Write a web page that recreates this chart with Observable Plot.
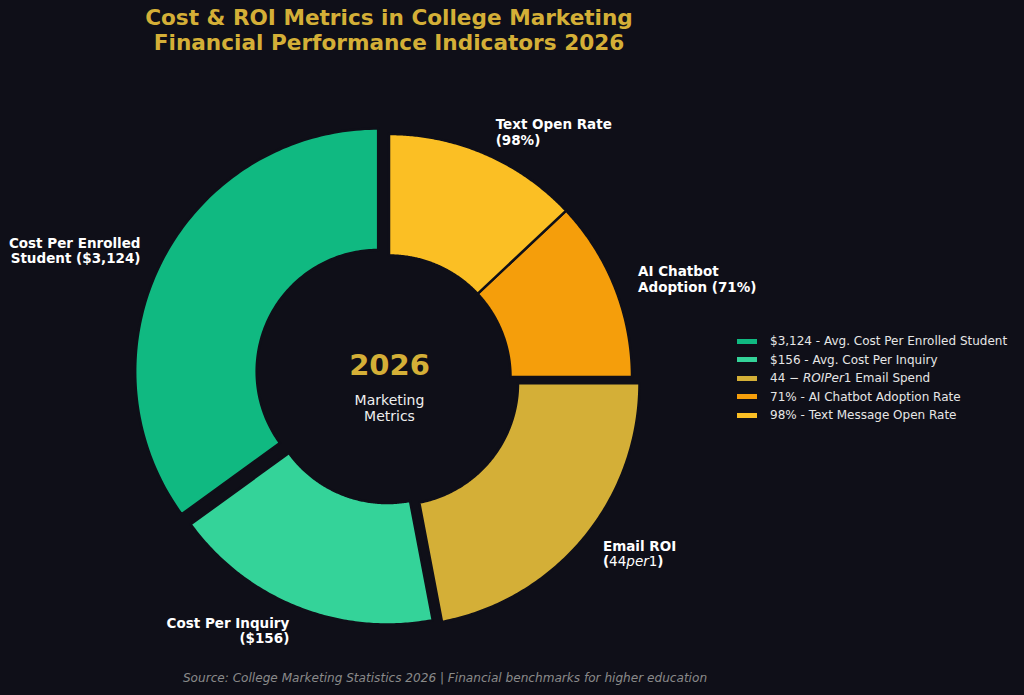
<!DOCTYPE html>
<html><head><meta charset="utf-8">
<script src="https://cdn.jsdelivr.net/npm/d3@7"></script>
<script src="https://cdn.jsdelivr.net/npm/@observablehq/plot@0.6"></script>
<style>
body{margin:0;background:#0f0f18;}
#wrap{position:relative;width:1024px;height:695px;overflow:hidden;background:#0f0f18;font-family:"DejaVu Sans",sans-serif;}
#chart{position:absolute;left:0;top:0;}
.title{position:absolute;left:389px;top:5px;transform:translateX(-50%);text-align:center;color:#D4AF37;font-weight:bold;font-size:21.6px;line-height:25px;white-space:nowrap;}
.legend{position:absolute;left:737px;top:332px;color:#e6e6e6;font-size:12px;}
.legend div{height:18.5px;display:flex;align-items:center;white-space:nowrap}
.legend span.sw{display:inline-block;width:20px;height:5px;margin-right:13px}
.source{position:absolute;left:445px;top:671px;transform:translateX(-50%);color:#8a8a8a;font-style:italic;font-size:12.1px;white-space:nowrap}
</style></head>
<body>
<div id="wrap">
  <div id="chart"></div>
  <div class="title" id="title"></div>
  <div class="legend" id="legend"></div>
  <div class="source" id="source"></div>
</div>
<script>
// ---- data ----
const categories = ["Cost Per Enrolled Student", "Cost Per Inquiry", "Email ROI", "AI Chatbot Adoption", "Text Open Rate"];
const shares = [35, 18, 22, 12, 13];
const sliceLabels = ["Cost Per Enrolled\nStudent ($3,124)", "Cost Per Inquiry\n($156)", "Email ROI\n(44per1)", "AI Chatbot\nAdoption (71%)", "Text Open Rate\n(98%)"];
const legendLabels = ["$3,124 - Avg. Cost Per Enrolled Student", "$156 - Avg. Cost Per Inquiry", "44 − <i>ROIPer</i>1 Email Spend", "71% - AI Chatbot Adoption Rate", "98% - Text Message Open Rate"];
const colors = ["#10B981", "#34D399", "#D4AF37", "#F59E0B", "#FBBF24"];
const explode = [0.05, 0.02, 0.04, 0, 0];
const titleLines = ["Cost &amp; ROI Metrics in College Marketing", "Financial Performance Indicators 2026"];
const centerTitle = "2026";
const centerSub = "Marketing\nMetrics";
const sourceText = "Source: College Marketing Statistics 2026 | Financial benchmarks for higher education";

// ---- layout ----
const W = 1024, H = 695, CX = 389, CY = 377, R = 243;
const BG = "#0f0f18";
const startAngle = 90, holeFrac = 0.5, labelDist = 1.1;

const total = d3.sum(shares);
const pts = [];
const labelRows = [];
let cum = 0;
categories.forEach((c, i) => {
  const a0 = (startAngle + 360 * cum / total) * Math.PI / 180;
  cum += shares[i];
  const a1 = (startAngle + 360 * cum / total) * Math.PI / 180;
  const m = (a0 + a1) / 2;
  const ox = explode[i] * Math.cos(m), oy = explode[i] * Math.sin(m);
  const n = 120;
  for (let k = 0; k <= n; k++) {
    const a = a0 + (a1 - a0) * k / n;
    pts.push({cat: c, x1: ox + Math.cos(a), y1: oy + Math.sin(a), x2: ox + holeFrac * Math.cos(a), y2: oy + holeFrac * Math.sin(a)});
  }
  labelRows.push({cat: c, text: sliceLabels[i], x: ox + labelDist * Math.cos(m), y: oy + labelDist * Math.sin(m), right: Math.cos(m) >= 0});
});

const plot = Plot.plot({
  width: W, height: H, margin: 0,
  style: {background: "transparent", fontFamily: "DejaVu Sans, sans-serif"},
  x: {domain: [-CX / R, (W - CX) / R], range: [0, W], axis: null},
  y: {domain: [-(H - CY) / R, CY / R], range: [H, 0], axis: null},
  color: {domain: categories, range: colors},
  marks: [
    Plot.area(pts, {x1: "x1", y1: "y1", x2: "x2", y2: "y2", z: "cat", fill: "cat", stroke: BG, strokeWidth: 2.5}),
    Plot.text(labelRows.filter(d => d.right), {x: "x", y: "y", text: "text", textAnchor: "start", lineAnchor: "middle", fill: "#ffffff", fontWeight: "bold", fontSize: 13.5, lineHeight: 1.12}),
    Plot.text(labelRows.filter(d => !d.right), {x: "x", y: "y", text: "text", textAnchor: "end", lineAnchor: "middle", fill: "#ffffff", fontWeight: "bold", fontSize: 13.5, lineHeight: 1.12}),
    Plot.text([centerTitle], {x: 0, y: 0.05, text: d => d, fill: "#D4AF37", fontWeight: "bold", fontSize: 29, lineAnchor: "middle"}),
    Plot.text([centerSub], {x: 0, y: -0.125, text: d => d, fill: "#eeeeee", fontSize: 14, lineAnchor: "middle", lineHeight: 1.15})
  ]
});
document.getElementById("chart").appendChild(plot);

// mathtext-style segment in the Email ROI label
plot.querySelectorAll("tspan").forEach(t => {
  if (t.textContent === "(44per1)") {
    t.textContent = "";
    const ns = "http://www.w3.org/2000/svg";
    [["(", "bold", "normal"], ["44", "normal", "normal"], ["per", "normal", "italic"], ["1", "normal", "normal"], [")", "bold", "normal"]].forEach(([s, w, st]) => {
      const e = document.createElementNS(ns, "tspan");
      e.textContent = s; e.setAttribute("font-weight", w); e.setAttribute("font-style", st);
      t.appendChild(e);
    });
  }
});

document.getElementById("title").innerHTML = titleLines.join("<br>");
document.getElementById("legend").innerHTML = categories.map((c, i) =>
  `<div><span class="sw" style="background:${colors[i]}"></span><span>${legendLabels[i]}</span></div>`).join("");
document.getElementById("source").textContent = sourceText;
</script>
</body></html>
